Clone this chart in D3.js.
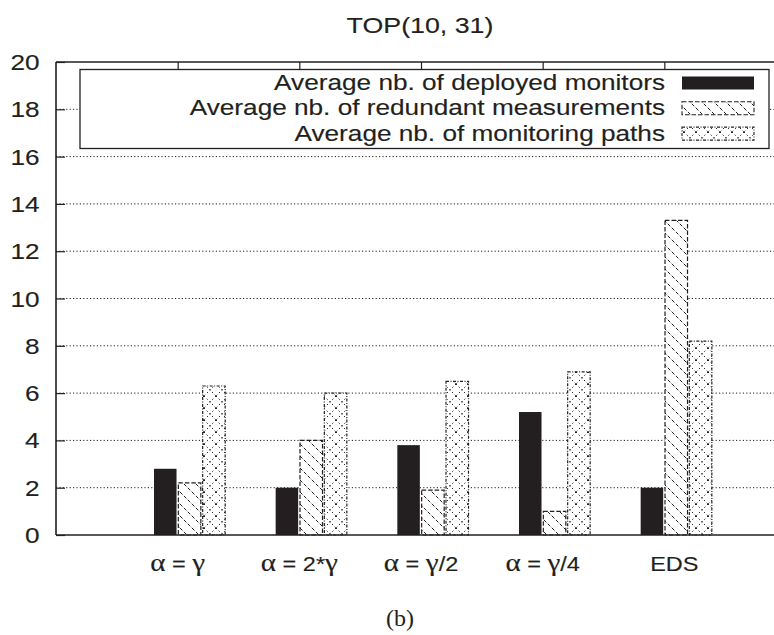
<!DOCTYPE html>
<html><head><meta charset="utf-8">
<script src="https://cdn.jsdelivr.net/npm/d3@7"></script>
<style>body{margin:0;background:#fff}svg{display:block}</style>
</head><body>
<script>
const categories = ["α = γ", "α = 2*γ", "α = γ/2", "α = γ/4", "EDS"];
const monitors  = [2.8, 2.0, 3.8, 5.2, 2.0];
const redundant = [2.2, 4.0, 1.9, 1.0, 13.3];
const paths     = [6.3, 6.0, 6.5, 6.9, 8.2];
const seriesNames = ["Average nb. of deployed monitors", "Average nb. of redundant measurements", "Average nb. of monitoring paths"];
const yTicks = [0, 2, 4, 6, 8, 10, 12, 14, 16, 18, 20];
const title = "TOP(10, 31)";
const caption = "(b)";

const W = 774, H = 635;
const ink = "#231f20";
const SX = 1.19;
const TW = 0.15;
const sans = "'Liberation Sans', Arial, sans-serif";
const serif = "'Liberation Serif', 'Times New Roman', serif";

const svg = d3.select("body").append("svg").attr("width", W).attr("height", H);
const defs = svg.append("defs");

const x = d3.scaleLinear().domain([-1, 5]).range([56, 786]);
const y = d3.scaleLinear().domain([0, 20]).range([535, 62]);

// patterns
const hs = 12;
const hp = defs.append("pattern").attr("id", "hatch").attr("patternUnits", "userSpaceOnUse")
  .attr("width", hs).attr("height", hs);
hp.append("rect").attr("width", hs).attr("height", hs).attr("fill", "#fff");
[[0,0,hs,hs],[-2,hs-2,2,hs+2],[hs-2,-2,hs+2,2]].forEach(l => hp.append("line")
  .attr("x1", l[0]).attr("y1", l[1]).attr("x2", l[2]).attr("y2", l[3])
  .attr("stroke", ink).attr("stroke-width", 1).attr("stroke-dasharray", "3.5,2"));
const cs = 12;
const cp = defs.append("pattern").attr("id", "cross").attr("patternUnits", "userSpaceOnUse")
  .attr("width", cs).attr("height", cs);
cp.append("rect").attr("width", cs).attr("height", cs).attr("fill", "#fff");
[[0,0,cs,cs],[cs,0,0,cs]].forEach(l => cp.append("line")
  .attr("x1", l[0]).attr("y1", l[1]).attr("x2", l[2]).attr("y2", l[3])
  .attr("stroke", ink).attr("stroke-width", 1).attr("stroke-dasharray", "1.4,2.4"));

const styles = [
  {fill: ink, stroke: ink, dash: null},
  {fill: "url(#hatch)", stroke: ink, dash: "4.5,2"},
  {fill: "url(#cross)", stroke: ink, dash: "3,1.5,1,1.5"}
];

// grid
const plot = svg.append("g");
plot.selectAll(".grid").data(yTicks.filter(v => v > 0 && v < 20)).enter().append("line")
  .attr("x1", x(-1)).attr("x2", W).attr("y1", d => y(d)).attr("y2", d => y(d))
  .attr("stroke", ink).attr("stroke-width", 1).attr("stroke-dasharray", "1.2,2.2");

// bars
const series = [monitors, redundant, paths];
const offsets = [-0.102, 0.098, 0.298];
const bw = 0.185;
series.forEach((vals, k) => {
  plot.selectAll(".bar" + k).data(vals).enter().append("rect")
    .attr("x", (d, i) => x(i + offsets[k] - bw / 2))
    .attr("width", x(bw) - x(0))
    .attr("y", d => y(d))
    .attr("height", d => y(0) - y(d))
    .attr("fill", styles[k].fill)
    .attr("stroke", styles[k].dash ? styles[k].stroke : "none")
    .attr("stroke-width", 1.2)
    .attr("stroke-dasharray", styles[k].dash);
});

// axes frame
const yAxis = d3.axisLeft(y).tickValues(yTicks).tickSize(-9).tickFormat("");
const ya = svg.append("g").attr("transform", `translate(${x(-1)},0)`).call(yAxis);
ya.select(".domain").remove();
ya.selectAll("line").attr("stroke", ink).attr("stroke-width", 1.2);
const xTop = d3.axisTop(x).tickValues(d3.range(categories.length)).tickSize(-8).tickFormat("");
const xt = svg.append("g").attr("transform", `translate(0,${y(20)})`).call(xTop);
xt.select(".domain").remove();
xt.selectAll("line").attr("stroke", ink).attr("stroke-width", 1.2);

svg.append("line").attr("x1", x(-1)).attr("x2", x(-1)).attr("y1", y(0)).attr("y2", y(20))
  .attr("stroke", ink).attr("stroke-width", 1.6);
svg.append("line").attr("x1", x(-1)).attr("x2", W).attr("y1", y(0)).attr("y2", y(0))
  .attr("stroke", ink).attr("stroke-width", 1.6);
svg.append("line").attr("x1", x(-1)).attr("x2", W).attr("y1", y(20)).attr("y2", y(20))
  .attr("stroke", ink).attr("stroke-width", 1.6);

function stxt(px, py, anchor, size, txt, fam) {
  return svg.append("text")
    .attr("transform", `translate(${px},${py}) scale(${SX},1)`)
    .attr("text-anchor", anchor).attr("font-family", fam || sans)
    .attr("font-size", size).attr("fill", ink)
    .attr("stroke", ink).attr("stroke-width", TW).text(txt);
}

// y tick labels
yTicks.forEach(v => stxt(39.5, y(v) + 8, "end", 22, String(v)));

// x labels with greek in serif
const labelDx = [0, 0, 0, 0, 10];
categories.forEach((c, i) => {
  const t = svg.append("text")
    .attr("transform", `translate(${x(i) + labelDx[i]},571) scale(1.12,1)`)
    .attr("text-anchor", "middle").attr("font-family", sans).attr("font-size", 21).attr("fill", ink)
    .attr("stroke", ink).attr("stroke-width", TW);
  c.split(/([αγ])/).filter(s => s.length).forEach(s => {
    const ts = t.append("tspan").text(s);
    if (s === "α" || s === "γ") ts.attr("font-family", serif).attr("font-size", 26);
  });
});

// title
stxt(420, 33, "middle", 22.5, title);

// legend
const lg = svg.append("g");
lg.append("rect").attr("x", 80).attr("y", 69.5).attr("width", 689).attr("height", 79)
  .attr("fill", "#fff").attr("stroke", ink).attr("stroke-width", 1.3);
seriesNames.forEach((n, k) => {
  const by = 90 + k * 25.3;
  stxt(665, by, "end", 22, n);
  lg.append("rect").attr("x", 682).attr("y", by - 13.5).attr("width", 72).attr("height", 13)
    .attr("fill", styles[k].fill)
    .attr("stroke", styles[k].dash ? styles[k].stroke : "none")
    .attr("stroke-width", 1.1).attr("stroke-dasharray", styles[k].dash);
});

// caption
svg.append("text").attr("x", 400).attr("y", 626).attr("text-anchor", "middle")
  .attr("font-family", serif).attr("font-size", 24).attr("fill", ink).text(caption);
</script>
</body></html>
